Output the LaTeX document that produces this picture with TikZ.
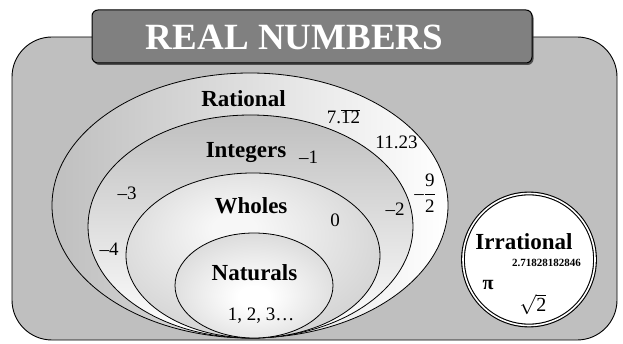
\documentclass[tikz,border=0pt]{standalone}
\usepackage{fix-cm}
\usepackage{fontspec}
\setmainfont{Liberation Serif}
\usepackage{xcolor}
\usetikzlibrary{shapes.geometric,shadows}

% soft glows for the two inner sets
\pgfdeclareradialshading{wholesglow}{\pgfpoint{-4bp}{9bp}}{color(0bp)=(black!3); color(4bp)=(black!3); color(44bp)=(black!25); color(50bp)=(black!25)}
\pgfdeclareradialshading{naturalsglow}{\pgfpoint{0bp}{-6bp}}{color(0bp)=(white); color(5bp)=(white); color(46bp)=(black!25); color(50bp)=(black!25)}

\begin{document}
\begin{tikzpicture}[x=1pt, y=-1pt,
    setoval/.style={ellipse, draw=black, line width=0.8pt, inner sep=0pt},
    setlabel/.style={font=\fontsize{23}{27}\selectfont\bfseries, anchor=base, inner sep=0pt},
    numlabel/.style={font=\fontsize{19}{22}\selectfont, anchor=base, inner sep=0pt}]
  \useasboundingbox (0,0) rectangle (623,344);

  % Outer frame
  \draw[line width=0.9pt, fill=black!25, rounded corners=40pt] (12,37) rectangle (617,340);

  % Title banner
  \node[draw=black, line width=1pt, fill=black!50, rounded corners=6pt,
        minimum width=440pt, minimum height=53pt, inner sep=0pt,
        drop shadow={shadow xshift=1.5pt, shadow yshift=-2pt, fill=black!80, opacity=0.8}]
        (banner) at (312,36.5) {};
  \node[font=\fontsize{37}{40}\selectfont\bfseries, text=white, anchor=base, inner sep=0pt]
        (title) at (294.5,50) {REAL NUMBERS};

  % Nested sets
  \node[setoval, minimum width=396pt, minimum height=265pt, left color=black!25, right color=white] (rational) at (250,205.5) {};
  \node[setoval, minimum width=325pt, minimum height=223pt, top color=black!25, bottom color=white] (integers) at (250.5,226.5) {};
  \node[setoval, minimum width=254pt, minimum height=165pt, shade, shading=wholesglow] (wholes) at (253,255.5) {};
  \node[setoval, minimum width=158pt, minimum height=105pt, shade, shading=naturalsglow] (naturals) at (254,285.5) {};

  % Irrational set
  \node[circle, draw=black, fill=white, line width=1.1pt, double=white, double distance=1.6pt,
        minimum size=132pt, inner sep=0pt] (irrational) at (529,259.5) {};

  % Set names
  \node[setlabel] (ratname) at (243.5,107) {Rational};
  \node[setlabel] (intname) at (246,158) {Integers};
  \node[setlabel] (whlname) at (251,214) {Wholes};
  \node[setlabel] (natname) at (254.5,280) {Naturals};
  \node[setlabel] (irrname) at (524,249.5) {Irrational};

  % Members
  \node[numlabel] (natnums) at (261,320) {1, 2, 3…};
  \node[numlabel] (zero) at (335,227) {0};
  \node[numlabel] (mtwo) at (395,216) {–2};
  \node[numlabel] (mone) at (308.5,164) {–1};
  \node[numlabel] (mthree) at (127,200) {–3};
  \node[numlabel] (mfour) at (109,256) {–4};
  \node[numlabel] (repdec) at (343.5,124) {7.$\overline{\mbox{12}}$};
  \node[numlabel] (termdec) at (396.5,149) {11.23};
  \node[numlabel, anchor=center] (ninehalf) at (425,193) {–$\displaystyle\frac{\mbox{9}}{\mbox{2}}$};
  \node[font=\fontsize{11}{13}\selectfont\bfseries, anchor=base, inner sep=0pt] (euler) at (546.5,267) {2.71828182846};
  \node[font=\fontsize{20}{22}\selectfont\bfseries, anchor=base, inner sep=0pt] (piname) at (488,290) {π};
  \node[numlabel, font=\fontsize{20}{22}\selectfont] (roottwo) at (533,312) {$\sqrt{\mbox{2}}$};
\end{tikzpicture}
\end{document}
